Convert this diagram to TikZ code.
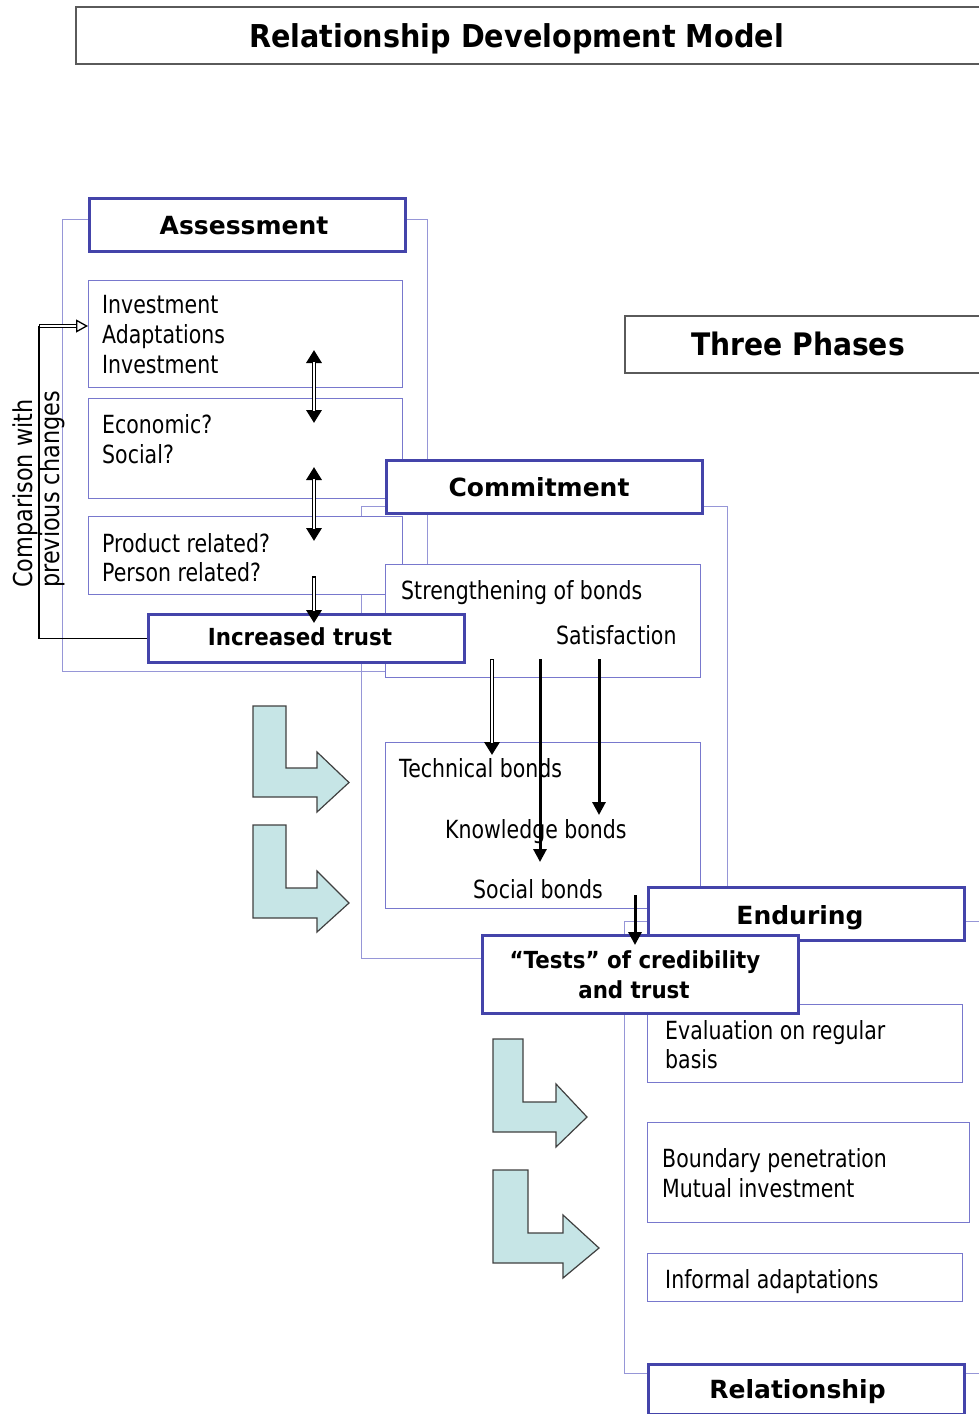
\documentclass[tikz,border=0pt]{standalone}
\usepackage{fontspec}
\setmainfont{DejaVu Sans}
\newfontfamily\bodyf[FakeStretch=0.82]{DejaVu Sans}
\newfontfamily\sidef[FakeStretch=0.86]{DejaVu Sans}
\newfontfamily\condf[FakeStretch=0.91]{DejaVu Sans}
\usetikzlibrary{arrows.meta}

\definecolor{hdrblue}{RGB}{68,68,170}
\definecolor{boxblue}{RGB}{120,120,205}
\definecolor{frameblue}{RGB}{150,150,215}
\definecolor{bentfill}{RGB}{198,229,230}
\definecolor{bentline}{RGB}{64,64,64}
\definecolor{titleline}{RGB}{90,90,90}

% L-shaped block arrow: stem left/right, top, bar top/bottom, head base, head top/bottom, tip x
\newcommand\bentarr[9]{%
  \draw[bent] (#1,#3) -- (#2,#3) -- (#2,#4) -- (#6,#4) -- (#6,#7)
    -- (#9,{(#4+#5)/2}) -- (#6,#8) -- (#6,#5) -- (#1,#5) -- cycle;}

% arrow with an outlined (hollow) shaft: tips, from, to, shortening of the white core
\newcommand\hollowarrow[4]{%
  \draw[hollowouter, #1] (#2) -- (#3);
  \draw[hollowinner, #4] (#2) -- (#3);}

\begin{document}
\begin{tikzpicture}[x=1pt,y=-1pt,
  framebox/.style={draw=frameblue, line width=1.2pt, rectangle, inner sep=0pt, anchor=north west},
  thinbox/.style={draw=boxblue, fill=white, line width=1.3pt, rectangle, inner sep=0pt, anchor=north west},
  hdrbox/.style={draw=hdrblue, fill=white, line width=3pt, rectangle, inner sep=0pt, anchor=north west},
  ttlbox/.style={draw=titleline, fill=white, line width=1.5pt, rectangle, inner sep=0pt, anchor=north west},
  bodytxt/.style={font=\bodyf\fontsize{25}{30}\selectfont, anchor=base west, inner sep=0pt},
  hdrtxt/.style={font=\bfseries\fontsize{25}{30}\selectfont, anchor=base, inner sep=0pt},
  condtxt/.style={font=\condf\bfseries\fontsize{23.5}{30}\selectfont, anchor=base, inner sep=0pt},
  bigtxt/.style={font=\condf\bfseries\fontsize{31}{36}\selectfont, anchor=base, inner sep=0pt},
  sidetxt/.style={font=\sidef\fontsize{26}{30}\selectfont, anchor=base west, inner sep=0pt, rotate=90},
  solidarr/.style={line width=3pt},
  hollowouter/.style={line width=4.6pt},
  hollowinner/.style={white, line width=1.7pt},
  tipd/.tip={Triangle[length=13pt,width=13pt]},
  tiph/.tip={Triangle[length=13pt,width=15pt]},
  tipo/.tip={Triangle[open, fill=white, length=12pt, width=13pt, line width=1.3pt]},
  bent/.style={fill=bentfill, draw=bentline, line width=1.2pt, line join=miter}]

\useasboundingbox (0,0) rectangle (978,1414);

% title and phase label
\node[ttlbox, minimum width=930pt, minimum height=57pt] (title) at (75,6) {};
\node[bigtxt, font=\condf\bfseries\fontsize{31.5}{36}\selectfont] (titletxt) at (516.5,47) {Relationship Development Model};
\node[ttlbox, minimum width=380pt, minimum height=57pt] (phases) at (624,315) {};
\node[bigtxt] (phasestxt) at (798,355) {Three Phases};

% phase frames
\node[framebox, minimum width=365pt, minimum height=452pt] (asf) at (62,219) {};
\node[framebox, minimum width=366pt, minimum height=452pt] (cmf) at (361,506) {};
\node[framebox, minimum width=380pt, minimum height=452pt] (enf) at (624,921) {};

% assessment phase
\node[hdrbox, minimum width=316pt, minimum height=53pt] (ash) at (88,197) {};
\node[thinbox, minimum width=314pt, minimum height=107pt] (inv) at (88,280) {};
\node[thinbox, minimum width=314pt, minimum height=100pt] (eco) at (88,398) {};
\node[thinbox, minimum width=314pt, minimum height=78pt] (prd) at (88,516) {};

% commitment phase
\node[hdrbox, minimum width=316pt, minimum height=53pt] (cmh) at (385,459) {};
\node[thinbox, minimum width=315pt, minimum height=113pt] (str) at (385,564) {};
\node[hdrbox, minimum width=316pt, minimum height=48pt] (tru) at (147,613) {};
\node[thinbox, minimum width=315pt, minimum height=166pt] (bnd) at (385,742) {};

% enduring phase
\node[hdrbox, minimum width=316pt, minimum height=53pt] (enh) at (647,886) {};
\node[thinbox, minimum width=315pt, minimum height=78pt] (evl) at (647,1004) {};
\node[thinbox, minimum width=322pt, minimum height=100pt] (bdy) at (647,1122) {};
\node[thinbox, minimum width=315pt, minimum height=48pt] (inf) at (647,1253) {};
\node[hdrbox, minimum width=316pt, minimum height=50pt] (rel) at (647,1363) {};
\node[hdrbox, minimum width=316pt, minimum height=78pt] (tst) at (481,934) {};

% box texts
\node[hdrtxt] (ashtxt) at (244,234) {Assessment};
\node[bodytxt] (inv1) at (102,313) {Investment};
\node[bodytxt] (inv2) at (102,343) {Adaptations};
\node[bodytxt] (inv3) at (102,373) {Investment};
\node[bodytxt] (eco1) at (102,433) {Economic?};
\node[bodytxt] (eco2) at (102,463) {Social?};
\node[bodytxt] (prd1) at (102,552) {Product related?};
\node[bodytxt] (prd2) at (102,581) {Person related?};
\node[condtxt] (trutxt) at (300,645) {Increased trust};

\node[hdrtxt] (cmhtxt) at (539,496) {Commitment};
\node[bodytxt] (str1) at (401,599) {Strengthening of bonds};
\node[bodytxt] (str2) at (556,644) {Satisfaction};
\node[bodytxt] (bnd1) at (399,777) {Technical bonds};
\node[bodytxt] (bnd2) at (445,838) {Knowledge bonds};
\node[bodytxt] (bnd3) at (473,898) {Social bonds};

\node[hdrtxt] (enhtxt) at (800,924) {Enduring};
\node[condtxt] (tst1) at (635,968) {“Tests” of credibility};
\node[condtxt] (tst2) at (634,998.5) {and trust};
\node[bodytxt] (evl1) at (665,1039.5) {Evaluation on regular};
\node[bodytxt] (evl2) at (665,1068.5) {basis};
\node[bodytxt] (bdy1) at (662,1167) {Boundary penetration};
\node[bodytxt] (bdy2) at (662,1197) {Mutual investment};
\node[bodytxt] (inf1) at (665,1288) {Informal adaptations};
\node[hdrtxt] (reltxt) at (797.5,1398) {Relationship};

% feedback loop
\node[sidetxt] (side1) at (32,588) {Comparison with};
\node[sidetxt] (side2) at (59,588) {previous changes};
\coordinate (fbc) at (39,326);
\coordinate (fbin) at (88,326);
\draw[line width=1.3pt] (tru.west) -| (fbc);
\draw[line width=4.6pt, -tipo] (fbc) -- (fbin);
\draw[hollowinner, shorten <=1.4pt, shorten >=12pt] (fbc) -- (fbin);

% connectors inside assessment
\coordinate (a1) at (314,350); \coordinate (a2) at (314,423);
\coordinate (a3) at (314,467); \coordinate (a4) at (314,541);
\coordinate (a5) at (314,576); \coordinate (a6) at (314,623);
\hollowarrow{tiph-tiph}{a1}{a2}{shorten <=12pt, shorten >=12pt}
\hollowarrow{tiph-tiph}{a3}{a4}{shorten <=12pt, shorten >=12pt}
\hollowarrow{-tiph}{a5}{a6}{shorten <=1.5pt, shorten >=12pt}

% connectors inside commitment
\coordinate (c1) at (492,659); \coordinate (c2) at (492,755);
\coordinate (c3) at (540,659); \coordinate (c4) at (540,862);
\coordinate (c5) at (599,659); \coordinate (c6) at (599,815);
\coordinate (c7) at (635,895); \coordinate (c8) at (635,945);
\hollowarrow{line width=4pt, -tiph}{c1}{c2}{line width=1.6pt, shorten <=1.3pt, shorten >=12pt}
\draw[solidarr, -tipd] (c3) -- (c4);
\draw[solidarr, -tipd] (c5) -- (c6);
\draw[solidarr, -tipd] (c7) -- (c8);

% block arrows between phases
\bentarr{253}{286}{706}{768}{797}{317}{752}{812}{349}
\bentarr{253}{286}{825}{888}{918}{317}{871}{932}{349}
\bentarr{493}{523}{1039}{1102}{1132}{556}{1084}{1147}{587}
\bentarr{493}{528}{1170}{1233}{1263}{563}{1215}{1278}{599}
\end{tikzpicture}
\end{document}
